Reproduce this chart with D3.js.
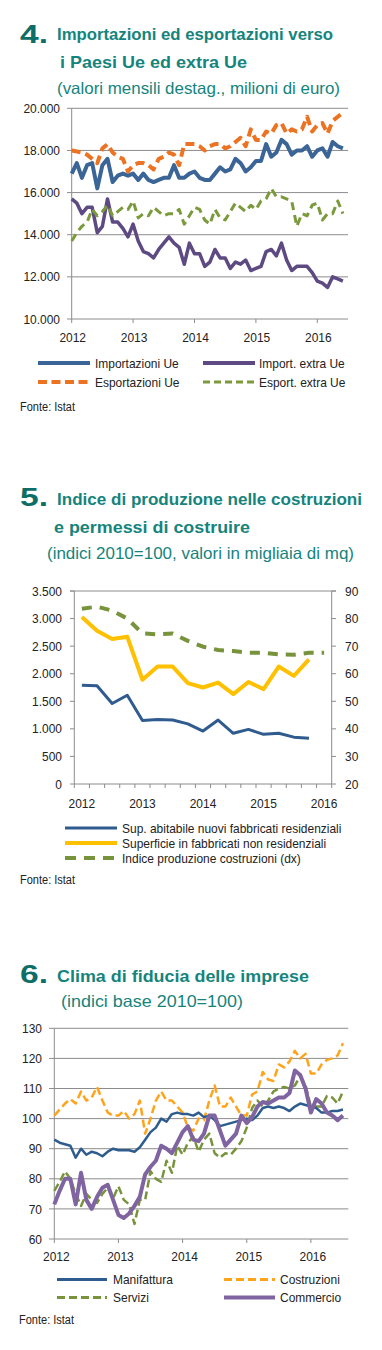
<!DOCTYPE html>
<html><head><meta charset="utf-8">
<script src="https://cdn.jsdelivr.net/npm/d3@7"></script>
<style>
body{margin:0;background:#fff;}
svg{display:block;font-family:"Liberation Sans",Arial,sans-serif;}
</style></head><body>
<svg id="c" width="382" height="1350"></svg>
<script>
// ---------- DATA: chart 4 (monthly, Jan 2012 - Jun 2016) ----------
const years4 = ["2012","2013","2014","2015","2016"];
const importUe = [16900,17400,16700,17300,17400,16200,17300,17600,16500,16800,16900,16800,
  16900,16600,16900,16600,16500,16600,16700,16700,17300,16700,16700,16900,
  17000,16700,16600,16600,16900,17200,17000,17100,17600,17400,17000,17200,
  17500,17500,18300,17700,17900,18500,18300,17800,18000,18000,18200,17700,
  18000,18100,17700,18400,18200,18100];
const esportUe = [18000,17950,17900,17800,17600,17400,18100,18300,17900,17700,17600,17000,
  17300,17400,17400,17300,17100,17600,17700,17900,17800,17300,18300,18300,
  18300,18200,18000,18200,18300,18300,18100,18200,18400,18600,18200,19000,
  18500,18500,18900,18800,19200,19300,18800,19000,18900,19000,19600,18900,
  19200,19300,18800,19400,19600,19800];
const importExtra = [15700,15500,15000,15300,15300,14100,14400,15700,14600,14600,14300,13900,
  14500,13700,13200,13100,12900,13300,13600,13900,13600,13400,12600,13600,
  13100,13100,12500,12700,13300,12900,12900,12400,12700,12600,12800,12300,
  12400,12500,13200,13300,13000,13600,12800,12300,12500,12500,12500,12200,
  11800,11700,11500,12000,11900,11800];
const esportExtra = [13700,14100,14400,14600,15200,14900,15100,15400,14900,15100,15300,15200,
  15600,14800,15000,14900,15300,15100,14900,15000,15000,15200,14500,14900,
  15300,15200,14700,14500,15200,14800,14700,15100,15500,15300,15100,15400,
  15200,15600,15700,16200,15800,15800,15700,15600,14400,15000,14900,15400,
  15500,14700,15000,15000,15600,15000];
const yTicks4 = [10000,12000,14000,16000,18000,20000];

// ---------- DATA: chart 5 (quarterly) ----------
const quarters5 = ["2012 T1","2012 T2","2012 T3","2012 T4","2013 T1","2013 T2","2013 T3","2013 T4",
  "2014 T1","2014 T2","2014 T3","2014 T4","2015 T1","2015 T2","2015 T3","2015 T4","2016 T1"];
const supAbitabile = [1790,1780,1460,1610,1150,1170,1160,1090,960,1160,920,990,900,920,850,830];
const supNonResid = [3030,2780,2630,2670,1890,2130,2130,1830,1750,1840,1630,1850,1720,2130,1960,2260];
const indiceProd = [83.6,84.3,82.9,80.0,74.6,74.3,74.6,71.9,69.8,68.6,68.2,67.6,67.6,67.0,66.9,67.6,67.6];
const yTicks5L = [0,500,1000,1500,2000,2500,3000,3500];
const yTicks5R = [20,30,40,50,60,70,80,90];

// ---------- DATA: chart 6 (monthly, Jan 2012 - Jul 2016) ----------
const years6 = ["2012","2013","2014","2015","2016"];
const manifattura = [93,92,91.5,91,87,90,88,89,88.5,87.5,89,90,
  89.5,89.5,89.5,89,90.5,93,95.5,97,100,99,101.5,102,
  101.5,101.5,101,102,100.5,101,99.5,97.5,98,98.5,99,99.5,
  100,99.5,101,103.5,104,103.5,104,103.5,102.5,104,105,104.5,
  104,103.5,102,102,102.5,102.5,103];
const costruzioni = [101,103,105,106.5,105,109,106,107,110.5,106,102,101,
  101,102.5,100,101.5,106,95,100,106,109,106,106,104,
  102,97,96,100,99.5,106,111,104,104,107,104,101,
  101,108,109,115.5,113,112.5,118,117,119,122.5,120,121.5,
  115,115,118,119.5,120,121,125];
const servizi = [76,79,82.5,80,75,71,75,73,72,75,77,73.5,
  77.5,73,71.5,65,73,73,82.5,80,79,86,82,91,
  88,92,94,89,93,95,88.5,87,88.5,88,90,92.5,
  97,103.5,106,104,106,109,110,110.5,110,111,114,111,
  104,104,104,107.5,107,105,109];
const commercio = [71.5,76,80,80,71.5,82,73,70,74,77,78,73,
  68,67,68.5,71,74,81.5,84,86,91,90,88.5,92,
  95.5,97.5,93,92.5,95,101,101,96,91,93,95,101,
  98.5,100.5,104,105.5,105,106,107,107,108.5,116,114.5,110,
  102,106.5,105,102,101,99.5,101];
const yTicks6 = [60,70,80,90,100,110,120,130];

// ---------- DRAWING ----------
const svg = d3.select("#c");
const teal = "#15847c", tealDark = "#0d6d67", grid = "#8c8c8c", txt = "#222";
const itFmt = d3.formatLocale({decimal:",", thousands:".", grouping:[3], currency:["",""]}).format(",");

function fitText(x, y, str, w, size, weight, color) {
  return svg.append("text").attr("x", x).attr("y", y).text(str)
    .attr("font-size", size).attr("font-weight", weight).attr("fill", color)
    .attr("textLength", w).attr("lengthAdjust", "spacingAndGlyphs");
}
// condensed label text (source uses a slightly narrow face)
function label(x, y, str, anchor, size, squeeze) {
  const t = svg.append("text").attr("x", x).attr("y", y).text(str)
    .attr("font-size", size || 13).attr("fill", txt).attr("text-anchor", anchor || "start");
  const len = t.node().getComputedTextLength();
  t.attr("textLength", len * (squeeze || 0.92)).attr("lengthAdjust", "spacingAndGlyphs");
  return t;
}
function legendItem(x1, x2, y, tx, name, color, width, dash) {
  svg.append("line").attr("x1", x1).attr("x2", x2).attr("y1", y).attr("y2", y)
    .attr("stroke", color).attr("stroke-width", width).attr("stroke-dasharray", dash || null);
  label(tx, y + 4.6, name, "start", 13);
}
function drawLine(data, x, y, color, width, dash) {
  svg.append("path").datum(data)
    .attr("d", d3.line().x((d, i) => x(i)).y(d => y(d)))
    .attr("fill", "none").attr("stroke", color).attr("stroke-width", width)
    .attr("stroke-linejoin", "round").attr("stroke-dasharray", dash || null);
}

// ===== Chart 4 =====
fitText(20, 42.5, "4.", 28, 25, 900, tealDark);
fitText(57, 40, "Importazioni ed esportazioni verso", 276, 16.5, "bold", teal);
fitText(60, 68, "i Paesi Ue ed extra Ue", 187, 16.5, "bold", teal);
fitText(57, 94, "(valori mensili destag., milioni di euro)", 283, 16.5, "normal", teal);
{
  const x = d3.scaleLinear().domain([0, 54]).range([71.7, 348]);
  const y = d3.scaleLinear().domain([10000, 20000]).range([319, 108.3]);
  yTicks4.forEach(t => {
    svg.append("line").attr("x1", 67).attr("x2", 348).attr("y1", y(t)).attr("y2", y(t))
      .attr("stroke", grid).attr("stroke-width", 1);
    label(60, y(t) + 4.6, itFmt(t), "end");
  });
  svg.append("line").attr("x1", 71.7).attr("x2", 71.7).attr("y1", y(20000)).attr("y2", y(10000))
    .attr("stroke", grid);
  years4.forEach((yr, k) => {
    const px = x(k * 12);
    svg.append("line").attr("x1", px).attr("x2", px).attr("y1", 319).attr("y2", 323).attr("stroke", grid);
    label(px + 1, 341.5, yr, "middle");
  });
  drawLine(importExtra, x, y, "#5e4a82", 3.5);
  drawLine(esportExtra, x, y, "#7b9a3c", 3, "8,5");
  drawLine(importUe, x, y, "#3b6596", 4);
  drawLine(esportUe, x, y, "#ec7322", 4, "9,5");
  legendItem(38, 90, 363, 95, "Importazioni Ue", "#3b6596", 4);
  legendItem(203, 255, 363, 259, "Import. extra Ue", "#5e4a82", 4);
  legendItem(38, 90, 382, 95, "Esportazioni Ue", "#ec7322", 4, "9,4.5");
  legendItem(203, 255, 382, 259, "Esport. extra Ue", "#7b9a3c", 3, "7,4");
  label(20, 410.5, "Fonte: Istat", "start", 12.5, 0.88);
}

// ===== Chart 5 =====
fitText(20, 506, "5.", 28, 25, 900, tealDark);
fitText(57, 505, "Indice di produzione nelle costruzioni", 305, 16.5, "bold", teal);
fitText(54, 533, "e permessi di costruire", 196, 16.5, "bold", teal);
fitText(47, 559, "(indici 2010=100, valori in migliaia di mq)", 307, 16.5, "normal", teal);
{
  const x = d3.scaleBand().domain(quarters5).range([74.3, 331.7]);
  const cx = i => x(quarters5[i]) + x.bandwidth() / 2;
  const yL = d3.scaleLinear().domain([0, 3500]).range([784, 591]);
  const yR = d3.scaleLinear().domain([20, 90]).range([784, 591]);
  svg.append("line").attr("x1", 70).attr("x2", 336).attr("y1", 591).attr("y2", 591).attr("stroke", grid);
  svg.append("line").attr("x1", 74.3).attr("x2", 331.7).attr("y1", 784).attr("y2", 784).attr("stroke", grid);
  svg.append("line").attr("x1", 74.3).attr("x2", 74.3).attr("y1", 591).attr("y2", 784).attr("stroke", grid);
  svg.append("line").attr("x1", 331.7).attr("x2", 331.7).attr("y1", 591).attr("y2", 784).attr("stroke", grid);
  yTicks5L.forEach(t => {
    svg.append("line").attr("x1", 70).attr("x2", 74.3).attr("y1", yL(t)).attr("y2", yL(t)).attr("stroke", grid);
    label(62, yL(t) + 4.6, itFmt(t), "end");
  });
  yTicks5R.forEach(t => {
    svg.append("line").attr("x1", 331.7).attr("x2", 336).attr("y1", yR(t)).attr("y2", yR(t)).attr("stroke", grid);
    label(345, yR(t) + 4.6, String(t), "start");
  });
  quarters5.forEach((q, i) => {
    const px = x(q);
    svg.append("line").attr("x1", px).attr("x2", px).attr("y1", 784).attr("y2", 788).attr("stroke", grid);
    if (q.endsWith("T1")) label(cx(i), 807.5, q.slice(0, 4), "middle");
  });
  svg.append("line").attr("x1", 331.7).attr("x2", 331.7).attr("y1", 784).attr("y2", 788).attr("stroke", grid);
  drawLine(indiceProd, cx, yR, "#77933c", 4, "10,8");
  drawLine(supNonResid, cx, yL, "#ffc000", 4);
  drawLine(supAbitabile, cx, yL, "#2f5b8f", 3);
  legendItem(65, 117, 828, 122, "Sup. abitabile nuovi fabbricati residenziali", "#2f5b8f", 3);
  legendItem(65, 117, 843, 122, "Superficie in fabbricati non residenziali", "#ffc000", 4);
  legendItem(65, 117, 858, 122, "Indice produzione costruzioni (dx)", "#77933c", 4, "11,8");
  label(20, 883.5, "Fonte: Istat", "start", 12.5, 0.88);
}

// ===== Chart 6 =====
fitText(20, 983, "6.", 28, 25, 900, tealDark);
fitText(57, 982, "Clima di fiducia delle imprese", 252, 16.5, "bold", teal);
fitText(61, 1007, "(indici base 2010=100)", 182, 16.5, "normal", teal);
{
  const x = d3.scaleLinear().domain([0, 55]).range([54.3, 348.3]);
  const y = d3.scaleLinear().domain([60, 130]).range([1239, 1028.3]);
  yTicks6.forEach(t => {
    svg.append("line").attr("x1", 49).attr("x2", 348.3).attr("y1", y(t)).attr("y2", y(t))
      .attr("stroke", grid).attr("stroke-width", 1);
    label(42, y(t) + 4.6, String(t), "end");
  });
  svg.append("line").attr("x1", 54.3).attr("x2", 54.3).attr("y1", y(130)).attr("y2", y(60)).attr("stroke", grid);
  years6.forEach((yr, k) => {
    const px = x(k * 12);
    svg.append("line").attr("x1", px).attr("x2", px).attr("y1", 1239).attr("y2", 1243).attr("stroke", grid);
    label(px + 2, 1260.5, yr, "middle");
  });
  drawLine(costruzioni, x, y, "#ffa31a", 2.5, "8,4");
  drawLine(servizi, x, y, "#77933c", 2.5, "8,4");
  drawLine(manifattura, x, y, "#2e5c8e", 2.5);
  drawLine(commercio, x, y, "#8064a2", 4);
  legendItem(57, 107, 1279.5, 113, "Manifattura", "#2e5c8e", 3);
  legendItem(224, 275, 1279.5, 280, "Costruzioni", "#ffa31a", 3, "8,4");
  legendItem(57, 107, 1297.5, 113, "Servizi", "#77933c", 3, "8,4");
  legendItem(224, 275, 1297.5, 280, "Commercio", "#8064a2", 4);
  label(19, 1323.5, "Fonte: Istat", "start", 12.5, 0.88);
}
</script></body></html>
